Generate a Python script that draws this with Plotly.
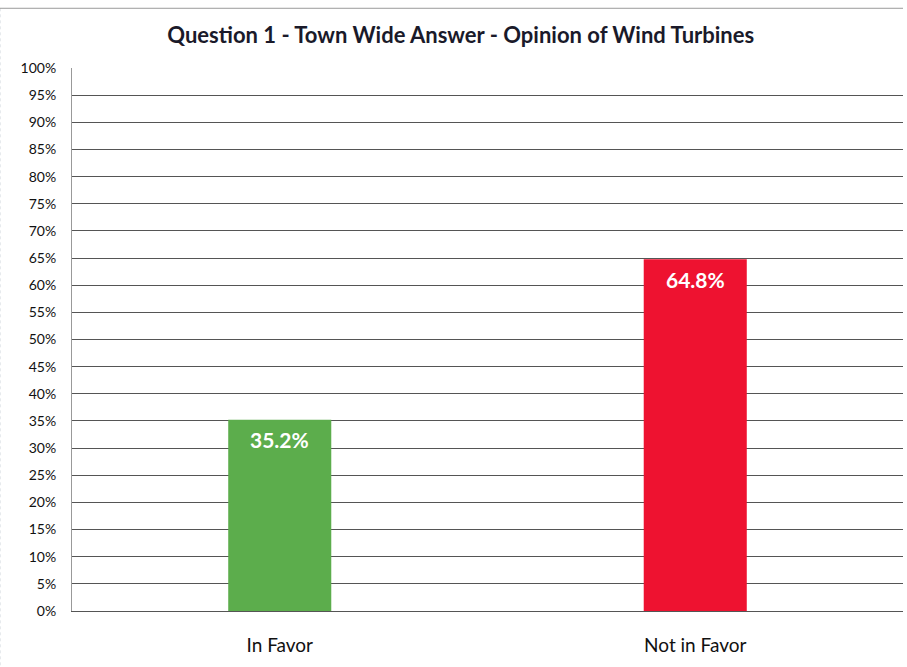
import plotly.graph_objects as go

categories = ["In Favor", "Not in Favor"]
values = [35.2, 64.8]
bar_colors = ["#5cad4c", "#ee1230"]
tick_vals = list(range(0, 101, 5))
tick_text = [f"{v}%" for v in tick_vals]

fig = go.Figure()
fig.add_trace(go.Bar(
    x=categories,
    y=values,
    marker=dict(color=bar_colors, line=dict(width=0)),
    width=0.248,
    hoverinfo="skip",
))

# value labels placed inside the top of each bar, derived from the data
for c, v in zip(categories, values):
    fig.add_annotation(
        x=c, y=v, text=f"<b>{v:.1f}%</b>", showarrow=False,
        yanchor="middle", yshift=-20,
        font=dict(family="Lato, Open Sans, sans-serif", size=21, color="white"),
    )

fig.update_layout(
    width=907, height=667,
    margin=dict(l=72, r=4, t=68, b=56),
    paper_bgcolor="white",
    plot_bgcolor="white",
    showlegend=False,
    title=dict(
        text="<b>Question 1 - Town Wide Answer - Opinion of Wind Turbines</b>",
        x=0.508, xanchor="center", y=0.947, yanchor="middle",
        font=dict(family="Lato, Open Sans, sans-serif", size=22, color="#1a1a2a"),
    ),
    font=dict(family="Lato, Open Sans, sans-serif", color="#222"),
    shapes=[
        dict(type="line", xref="paper", yref="paper", x0=-0.087, x1=-0.087, y0=-0.1, y1=1.11,
             line=dict(color="#8a9aa8", width=1, dash="dot")),
        dict(type="line", xref="paper", yref="paper", x0=-0.087, x1=1.0, y0=1.11, y1=1.11,
             line=dict(color="#9a9a9a", width=1)),
    ],
)
fig.update_yaxes(
    range=[0, 100],
    tickvals=tick_vals,
    ticktext=tick_text,
    showgrid=True,
    gridcolor="#555",
    gridwidth=1,
    zeroline=False,
    showline=True,
    linecolor="#999",
    linewidth=1,
    ticks="",
    ticklabelstandoff=12,
    tickfont=dict(size=14, color="#111"),
    fixedrange=True,
)
fig.update_xaxes(
    showline=True,
    linecolor="#555",
    linewidth=1,
    ticks="",
    ticklabelstandoff=17,
    tickfont=dict(size=19, color="#111"),
    fixedrange=True,
)

fig.write_html("out.html")
